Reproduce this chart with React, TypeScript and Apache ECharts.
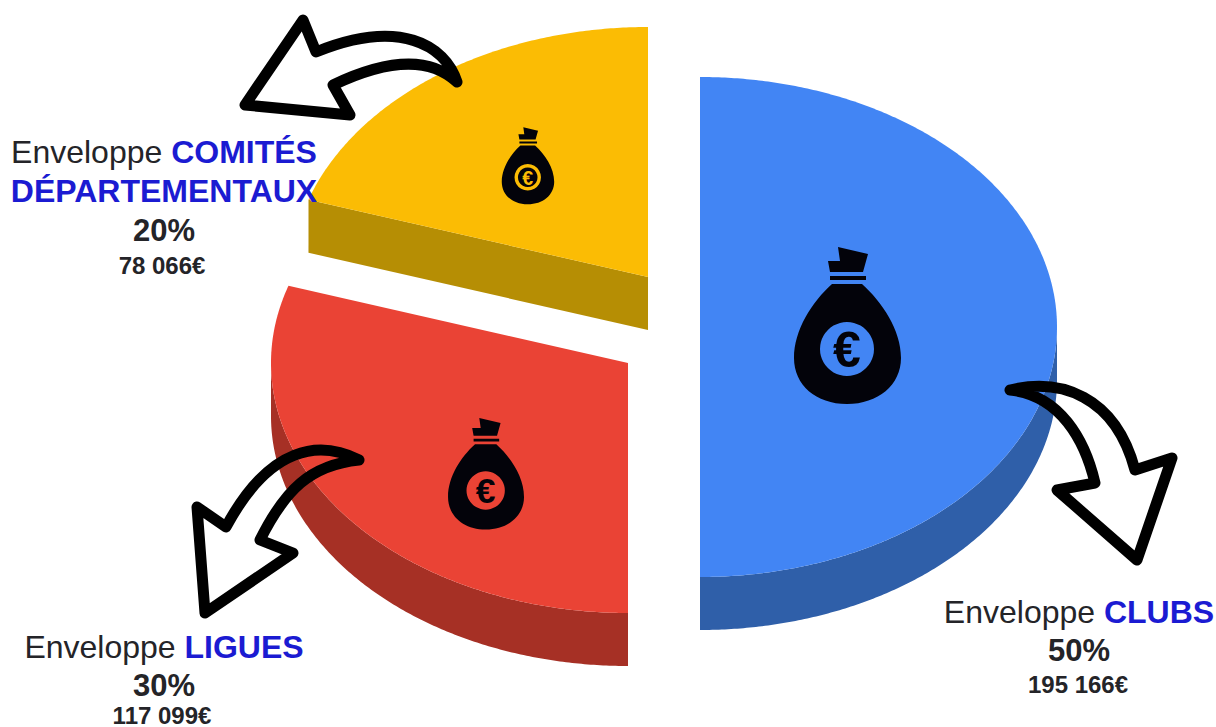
import React, { useEffect, useRef } from "react";
import * as echarts from "echarts";

// ---- data ----
const categories = ["CLUBS", "LIGUES", "COMITÉS DÉPARTEMENTAUX"];
const shares = [50, 30, 20];
const amounts = ["195 166€", "117 099€", "78 066€"];
const topColors = ["#4285f4", "#ea4335", "#fbbc04"];
const sideColors = ["#2f5fa9", "#a63025", "#b68e04"];

// ---- layout ----
const W = 1216;
const H = 727;
const RX = 357;
const RY = 250;
const DEPTH = 53;
const centers = [
  [700, 327],
  [628, 363],
  [648, 277],
];
const FONT = '"Liberation Sans", Arial, sans-serif';
const DARK = "#242428";
const BLUE = "#1b1bd2";
const TOP_Z = 10;

const BAG =
  "M68 17 L98 24 L93 42 L60 42 L58 31 L70 31 Z " +
  "M60 46 L96 46 L96 50 L60 50 Z " +
  "M62 54 L92 54 C112 72 131 100 131 128 C131 155 108 174 77 174 C46 174 24 155 24 128 C24 100 42 72 62 54 Z";
const ARROW_Y =
  "M457 82 C445 45 400 18 316 52 L303 20 L245 105 L350 115 L333 85 C375 65 425 52 457 82";
const ARROW_B =
  "M1010 390 C1060 378 1115 395 1135 470 L1172 458 L1137 560 L1057 490 L1095 483 C1085 440 1060 395 1010 390";
const ARROW_R =
  "M359 460 C320 440 270 445 226 527 L197 507 L205 613 L293 553 L260 540 C285 490 310 465 359 460";

echarts.graphic.registerShape("bag", echarts.graphic.extendPath(BAG, {}));
echarts.graphic.registerShape("arrowY", echarts.graphic.extendPath(ARROW_Y, {}));
echarts.graphic.registerShape("arrowB", echarts.graphic.extendPath(ARROW_B, {}));
echarts.graphic.registerShape("arrowR", echarts.graphic.extendPath(ARROW_R, {}));

const point = (c: number[], deg: number, dy = 0) => {
  const t = (deg * Math.PI) / 180;
  return [c[0] + RX * Math.sin(t), c[1] - RY * Math.cos(t) + dy];
};

const arcPoints = (c: number[], a0: number, a1: number, dy = 0) => {
  const pts: number[][] = [];
  const n = Math.max(2, Math.ceil(Math.abs(a1 - a0) * 2));
  for (let i = 0; i <= n; i++) pts.push(point(c, a0 + ((a1 - a0) * i) / n, dy));
  return pts;
};

const renderSlice = (params: any, api: any) => {
  const i = params.dataIndex;
  const total = shares.reduce((s, v) => s + v, 0);
  const before = shares.slice(0, i).reduce((s, v) => s + v, 0);
  const a0 = (before / total) * 360;
  const a1 = a0 + (api.value(0) / total) * 360;
  const c = centers[i];
  const children: any[] = [];
  const fromA = Math.max(a0, 90);
  const toA = Math.min(a1, 270);
  if (toA > fromA) {
    const top = arcPoints(c, fromA, toA);
    const bottom = arcPoints(c, toA, fromA, DEPTH);
    children.push({
      type: "polygon",
      shape: { points: [...top, ...bottom] },
      style: { fill: sideColors[i] },
    });
  }
  const e = point(c, a0);
  children.push({
    type: "polygon",
    shape: { points: [e, c, [c[0], c[1] + DEPTH], [e[0], e[1] + DEPTH]] },
    style: { fill: sideColors[i] },
  });
  children.push({
    type: "polygon",
    shape: { points: [c, ...arcPoints(c, a0, a1)] },
    style: { fill: topColors[i] },
  });
  return { type: "group", children };
};

const bag = (x: number, y: number, s: number, color: string, ring: boolean) => ({
  type: "group",
  x,
  y,
  scaleX: s,
  scaleY: s,
  silent: true,
  z: TOP_Z,
  children: [
    { type: "bag", z: TOP_Z, z2: 1, x: 0, y: 0, style: { fill: "#03030a" } },
    { type: "circle", z: TOP_Z, z2: 2, shape: { cx: 77, cy: 119, r: 27 }, style: { fill: color } },
    ...(ring
      ? [{ type: "circle", z: TOP_Z, z2: 3, shape: { cx: 77, cy: 119, r: 20 }, style: { fill: "#03030a" } }]
      : []),
    {
      type: "text",
      z: TOP_Z,
      z2: 4,
      x: 77,
      y: 120,
      style: {
        text: "€",
        fontSize: ring ? 40 : 50,
        fontWeight: "bold",
        fontFamily: FONT,
        fill: ring ? color : "#03030a",
        align: "center",
        verticalAlign: "middle",
      },
    },
  ],
});

const arrow = (type: string) => ({
  type,
  z: TOP_Z,
  z2: 5,
  x: 0,
  y: 0,
  silent: true,
  style: { fill: "none", stroke: "#000", lineWidth: 11, lineJoin: "round", lineCap: "round" },
});

const line = (text: string, x: number, y: number, size: number, bold: boolean, color: string) => ({
  type: "text",
  z: TOP_Z,
  x,
  y,
  silent: true,
  style: {
    text,
    fontSize: size,
    fontWeight: bold ? "bold" : "normal",
    fontFamily: FONT,
    fill: color,
    align: "center",
    verticalAlign: "middle",
  },
});

const head = (x: number, y: number, name: string) => ({
  type: "text",
  z: TOP_Z,
  x,
  y,
  silent: true,
  style: {
    text: `{a|Enveloppe} {b|${name}}`,
    align: "center",
    verticalAlign: "middle",
    fontFamily: FONT,
    fontSize: 32,
    rich: {
      a: { fontSize: 32, fontFamily: FONT, fill: DARK },
      b: { fontSize: 32, fontFamily: FONT, fontWeight: "bold", fill: BLUE },
    },
  },
});

export default function App() {
  const ref = useRef<HTMLDivElement>(null);
  useEffect(() => {
    document.body.style.margin = "0";
    const chart = echarts.init(ref.current!, undefined, { renderer: "svg" });
    const [clubs, ligues, comites] = categories;
    const [cNear, cFar] = comites.split(" ");
    chart.setOption({
      animation: false,
      backgroundColor: "#ffffff",
      series: [
        {
          type: "custom",
          coordinateSystem: "none",
          silent: true,
          z: 1,
          data: shares.map((v) => [v]),
          renderItem: renderSlice,
        },
      ],
      graphic: {
        elements: [
          bag(770, 230, 1, topColors[0], false),
          bag(431, 406, 0.71, topColors[1], false),
          bag(490, 119, 0.49, topColors[2], true),
          arrow("arrowY"),
          arrow("arrowB"),
          arrow("arrowR"),
          head(164, 152, cNear),
          line(cFar, 164, 191, 32, true, BLUE),
          line(`${shares[2]}%`, 164, 230, 31, true, DARK),
          line(amounts[2], 162, 265, 24, true, DARK),
          head(164, 647, ligues),
          line(`${shares[1]}%`, 164, 685, 31, true, DARK),
          line(amounts[1], 162, 715, 24, true, DARK),
          head(1079, 612, clubs),
          line(`${shares[0]}%`, 1079, 650, 31, true, DARK),
          line(amounts[0], 1078, 684, 24, true, DARK),
        ],
      },
    });
    return () => chart.dispose();
  }, []);
  return <div ref={ref} style={{ position: "absolute", left: 0, top: 0, width: W, height: H }} />;
}
